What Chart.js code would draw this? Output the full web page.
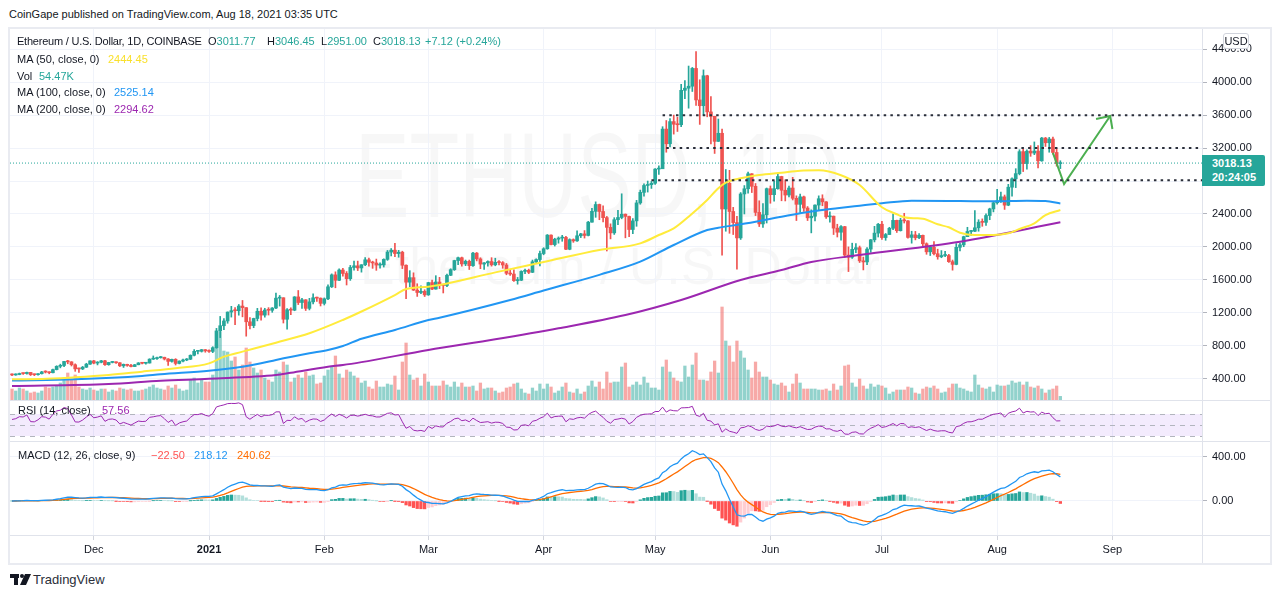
<!DOCTYPE html>
<html>
<head>
<meta charset="utf-8">
<script src="https://cdn.jsdelivr.net/npm/chart.js@4.4.1/dist/chart.umd.min.js"></script>
<style>
  body { margin: 0; width: 1280px; height: 598px; background: #fff; overflow: hidden; position: relative;
         font-family: 'Liberation Sans', Arial, sans-serif; font-size: 11px; color: #131722; }
  .t { position: absolute; white-space: nowrap; line-height: 13px; }
  canvas { position: absolute; left: 10px; z-index: 1; }
  .hl { position: absolute; left: 10px; width: 1260px; height: 1px; background: #e0e3eb; z-index: 2; }
  .wm { position: absolute; white-space: nowrap; color: rgba(0, 0, 0, 0.03); line-height: 1; z-index: 0; transform-origin: left top; }
  #frame { position: absolute; left: 8px; top: 27px; width: 1260px; height: 534px; border: 2px solid #e9ebf1; }
</style>
</head>
<body>
<div class="t" style="left:9px;top:8px;font-size:11px;">CoinGape published on TradingView.com, Aug 18, 2021 03:35 UTC</div>
<div id="frame"></div>

<div class="wm" style="left:355px;top:115px;font-size:120px;transform:scaleX(0.68);">ETHUSD, 1D</div>
<div class="wm" style="left:360px;top:240px;font-size:52px;">Ethereum / U.S. Dollar</div>

<canvas id="main" width="1260" height="371" style="top:29px"></canvas>
<canvas id="rsi" width="1260" height="40" style="top:401px"></canvas>
<canvas id="macd" width="1260" height="121" style="top:442px"></canvas>

<div class="hl" style="top:400px"></div>
<div class="hl" style="top:441px"></div>
<div class="hl" style="top:535px"></div>
<div style="position:absolute;left:1202px;top:29px;width:1px;height:534px;background:#e0e3eb;z-index:2"></div>

<!-- legend -->
<div class="t" style="left:17px;top:35px;z-index:3;letter-spacing:-0.22px">Ethereum / U.S. Dollar, 1D, COINBASE</div>
<div class="t" style="left:208px;top:35px;z-index:3">O<span style="color:#26a69a">3011.77</span></div>
<div class="t" style="left:267px;top:35px;z-index:3">H<span style="color:#26a69a">3046.45</span></div>
<div class="t" style="left:321px;top:35px;z-index:3">L<span style="color:#26a69a">2951.00</span></div>
<div class="t" style="left:373px;top:35px;z-index:3">C<span style="color:#26a69a">3018.13</span></div>
<div class="t" style="left:425px;top:35px;z-index:3;color:#26a69a">+7.12 (+0.24%)</div>
<div class="t" style="left:17px;top:53px;z-index:3">MA (50, close, 0)</div>
<div class="t" style="left:108px;top:53px;z-index:3;color:#f9e02c">2444.45</div>
<div class="t" style="left:17px;top:70px;z-index:3">Vol</div>
<div class="t" style="left:39px;top:70px;z-index:3;color:#26a69a">54.47K</div>
<div class="t" style="left:17px;top:86px;z-index:3">MA (100, close, 0)</div>
<div class="t" style="left:114px;top:86px;z-index:3;color:#2196f3">2525.14</div>
<div class="t" style="left:17px;top:103px;z-index:3">MA (200, close, 0)</div>
<div class="t" style="left:114px;top:103px;z-index:3;color:#9c27b0">2294.62</div>

<div class="t" style="left:18px;top:404px;z-index:3">RSI (14, close)</div>
<div class="t" style="left:102px;top:404px;z-index:3;color:#9c27b0">57.56</div>
<div class="t" style="left:18px;top:449px;z-index:3">MACD (12, 26, close, 9)</div>
<div class="t" style="left:151px;top:449px;z-index:3;color:#ff5252">−22.50</div>
<div class="t" style="left:194px;top:449px;z-index:3;color:#2196f3">218.12</div>
<div class="t" style="left:237px;top:449px;z-index:3;color:#ff6d00">240.62</div>

<!-- right axis badges -->
<div style="position:absolute;left:1223px;top:33px;width:24px;height:14px;border:1px solid #d1d4dc;border-radius:3px;background:#fff;z-index:3;text-align:center;line-height:14px;">USD</div>
<div style="position:absolute;left:1202px;top:155px;width:63px;height:31px;background:#26a69a;z-index:3;border-radius:0 2px 2px 0;"></div>
<div class="t" style="left:1212px;top:157px;z-index:4;color:#fff;font-weight:bold">3018.13</div>
<div class="t" style="left:1212px;top:171px;z-index:4;color:#fff;font-weight:bold">20:24:05</div>

<!-- footer -->
<svg style="position:absolute;left:10px;top:574px" width="21" height="11" viewBox="0 0 21 11">
  <rect x="0" y="0" width="9" height="4" fill="#131722"/>
  <rect x="4" y="0" width="4" height="11" fill="#131722"/>
  <circle cx="12" cy="2" r="2" fill="#131722"/>
  <polygon points="15,0 21,0 16,11 10,11" fill="#131722"/>
</svg>
<div class="t" style="left:33px;top:572px;font-size:13px;line-height:16px;color:#2a2e39">TradingView</div>

<script>
// daily candles, Nov 9 2020 .. Aug 18 2021 (COINBASE ETH/USD)
const firstOpen = 452;
const closes = [
  444,449,462,461,475,448,447,459,481,479,471,509,549,559,608,603,568,518,517,538,575,615, // Nov
  588,598,616,569,596,601,592,555,573,560,546,568,590,586,589,636,643,654,659,638,609,634,584,612,626,635,683,731,731,751,737, // Dec
  730,775,979,1042,1100,1208,1225,1224,1281,1262,1090,1044,1130,1218,1171,1233,1230,1257,1377,1382,1121,1236,1231,1392,1324,1357,1253,1332,1382,1377,1314, // Jan
  1369,1515,1660,1594,1719,1677,1614,1750,1770,1744,1783,1843,1813,1804,1779,1781,1848,1937,1960,1919,1935,1777,1571,1626,1475,1446,1460,1417, // Feb
  1566,1487,1573,1537,1531,1655,1723,1834,1868,1793,1825,1772,1924,1854,1791,1806,1822,1782,1812,1809,1780,1679,1670,1590,1595,1702,1716,1691,1819,1846,1919, // Mar
  1977,2143,2028,2093,2107,2115,1971,2088,2073,2135,2158,2139,2300,2432,2515,2430,2355,2237,2170,2330,2357,2397,2370,2211,2316,2534,2662,2746,2756,2773, // Apr
  2945,2949,3431,3253,3522,3490,3484,3902,3928,3952,4168,3785,3715,4079,3640,3586,3282,3380,2460,2772,2430,2295,2109,2643,2706,2888,2736,2419,2279,2390,2707, // May
  2634,2707,2855,2688,2630,2715,2590,2517,2608,2472,2353,2372,2508,2585,2547,2365,2373,2228,2178,2246,1900,1875,1970,1990,1830,1817,1973,2086,2167,2275, // Jun
  2113,2150,2226,2322,2197,2324,2316,2115,2146,2111,2140,2038,1940,1995,1917,1880,1895,1895,1820,1787,1995,2025,2124,2187,2190,2232,2300,2298,2381,2461,2536, // Jul
  2560,2608,2507,2725,2827,2890,3157,3012,3163,3140,3164,3045,3322,3265,3310,3147,3011.77,3018.13 // Aug
];
const highs = [
  458,458,467,468,478,476,455,462,488,495,482,515,556,575,610,622,606,579,528,548,586,617,
  622,606,621,621,598,607,604,594,577,575,573,572,594,592,593,641,675,660,669,660,644,636,642,616,638,644,688,751,735,754,753,
  749,787,1010,1155,1130,1210,1278,1262,1300,1349,1262,1141,1134,1253,1260,1254,1262,1263,1440,1410,1382,1250,1260,1396,1470,1374,1359,1375,1429,1391,1380,
  1380,1540,1672,1697,1733,1740,1700,1775,1826,1827,1784,1870,1863,1826,1852,1807,1855,1957,1980,2042,1958,1947,1781,1711,1685,1552,1526,1479,
  1570,1597,1650,1630,1547,1668,1734,1838,1875,1875,1840,1840,1935,1932,1868,1809,1830,1869,1862,1835,1822,1799,1723,1720,1629,1710,1730,1730,1840,1855,1949,
  1990,2150,2145,2105,2121,2140,2128,2098,2097,2195,2165,2198,2310,2469,2547,2520,2498,2370,2280,2355,2445,2645,2400,2375,2345,2565,2690,2765,2800,2795,
  2952,2985,3460,3535,3560,3601,3575,3975,4020,4197,4180,4372,4030,4150,4085,3825,3587,3553,3430,2940,2930,2480,2370,2660,2745,2910,2890,2770,2560,2525,2715,
  2740,2800,2891,2858,2815,2740,2845,2620,2640,2617,2490,2450,2510,2620,2633,2550,2425,2375,2275,2260,2250,2000,2045,2040,2010,1876,1992,2090,2250,2285,
  2310,2163,2238,2400,2325,2348,2408,2318,2190,2188,2161,2144,2049,2000,2065,1972,1955,1945,1910,1840,2040,2045,2130,2238,2200,2440,2330,2340,2400,2470,2550,
  2700,2665,2630,2760,2838,2950,3180,3185,3180,3230,3275,3230,3330,3330,3330,3335,3200,3046.45
];
const lows = [
  436,440,446,451,455,437,435,441,455,468,458,470,505,530,544,580,553,488,475,509,535,572,
  579,566,591,560,562,590,584,546,535,549,541,545,567,579,576,588,632,634,648,626,559,600,565,578,602,617,630,674,700,722,720,
  718,715,768,898,994,1072,1147,1055,1170,1150,915,1002,1018,1101,1111,1146,1172,1205,1248,1281,1075,1000,1176,1224,1299,1252,1227,1234,1308,1337,1282,
  1294,1358,1506,1503,1589,1644,1537,1593,1716,1712,1693,1772,1765,1739,1715,1740,1755,1836,1890,1880,1874,1736,1371,1515,1470,1398,1431,1397,
  1411,1480,1486,1493,1440,1518,1650,1714,1785,1765,1772,1725,1762,1830,1735,1725,1767,1766,1770,1781,1740,1661,1652,1580,1547,1590,1675,1675,1687,1797,1769,
  1904,1971,2025,2010,2045,2068,1965,1965,2055,2066,2113,2107,2133,2300,2359,2330,2303,1950,2097,2151,2270,2341,2110,2125,2160,2250,2518,2615,2666,2710,
  2760,2880,2950,3150,3215,3370,3402,3460,3800,3685,3888,3720,3488,3600,3580,3252,3135,3280,1900,2190,2165,2150,1730,2090,2400,2653,2660,2380,2247,2235,2290,
  2530,2556,2700,2560,2558,2607,2570,2320,2420,2430,2320,2170,2315,2450,2500,2345,2300,2150,2120,2080,1870,1700,1860,1930,1810,1720,1785,1934,2060,2120,
  2090,2080,2150,2208,2175,2192,2290,2105,2045,2085,2100,2010,1910,1895,1903,1850,1868,1880,1812,1717,1782,1952,2002,2152,2140,2185,2190,2250,2260,2330,2425,
  2520,2540,2455,2500,2615,2720,2875,2915,2945,3100,3120,2960,3040,3220,3150,3125,2981,2951
];
// volume in thousands of ETH
const volumesK = [
  165,135,180,165,135,105,120,105,135,195,180,195,210,255,330,405,300,375,195,165,150,180,
  150,135,165,165,120,150,135,180,165,150,165,135,135,150,165,195,225,180,165,150,210,180,225,165,135,150,300,330,255,300,270,
  270,375,840,1020,735,720,585,645,450,525,780,570,480,405,450,330,300,270,450,420,570,525,270,330,375,330,420,360,375,240,255,
  360,450,495,660,390,330,450,420,360,330,255,285,195,165,285,195,195,240,225,360,150,570,855,375,300,330,210,390,
  270,210,210,210,285,225,195,270,195,255,195,195,210,135,255,165,180,180,135,105,120,180,195,240,255,165,105,90,180,135,240,
  165,240,195,105,135,195,255,120,105,165,90,120,210,285,195,270,165,420,255,270,270,495,555,195,225,270,225,345,255,180,
  180,150,495,600,420,330,285,270,510,345,525,705,300,300,285,420,585,405,1395,885,810,570,885,735,630,450,330,570,420,345,345,
  300,240,225,255,210,120,240,390,255,165,165,165,165,150,150,165,135,240,150,210,510,525,255,195,315,210,165,240,195,225,
  210,180,90,120,150,150,150,195,180,105,90,165,195,180,210,165,105,120,180,240,240,180,165,135,120,375,225,180,165,195,120,
  225,210,210,225,285,255,270,225,270,195,180,210,165,105,150,165,210,54.47
];

// moving averages (day index -> value)
const ma50Idx = [0,8,17,26,35,44,53,57,62,71,80,89,94,103,106,112,115,130,143,158,169,174,178,182,187,190,192,196,201,207,212,217,223,228,234,238,240,243,245,249,252,255,259,264,268,271,275,278,282];
const ma50Val = [393,395,415,443,484,525,585,666,727,836,950,1112,1215,1415,1488,1517,1537,1690,1816,1962,2043,2144,2225,2367,2570,2712,2780,2833,2873,2901,2925,2930,2870,2752,2481,2396,2359,2347,2343,2274,2238,2172,2144,2144,2165,2217,2286,2387,2448];
const ma100Idx = [0,17,35,40,53,62,67,71,80,85,89,94,103,112,115,134,143,158,169,178,187,190,196,207,215,222,228,234,242,255,264,273,278,282];
const ma100Val = [376,391,431,452,496,544,585,626,707,747,796,883,990,1112,1140,1355,1470,1660,1820,2023,2205,2233,2274,2367,2430,2470,2500,2529,2561,2557,2553,2561,2557,2527];
const ma200Idx = [0,26,40,53,71,75,85,89,94,112,130,147,165,180,196,207,215,228,255,282];
const ma200Val = [310,334,374,398,443,471,544,565,600,747,877,1011,1172,1355,1598,1719,1816,1901,2063,2298];

const monthIdx = [22,53,84,112,143,173,204,234,265,296];
const monthLabels = ['Dec','2021','Feb','Mar','Apr','May','Jun','Jul','Aug','Sep'];
const priceTicks = [400,800,1200,1600,2000,2400,2800,3200,3600,4000,4400];
const macdTicks = [0,400];
const rsiLevels = [70,50,30];
const rsiSeed = [6,4];

// drawn levels and arrow
const levelPrices = [3600,3200,2810];
const levelStart = [175,176,172];
const arrowIdx = [280.0,283.0,295.4];
const arrowPrice = [3141,2764,3590];
const arrowHeadIdx = [291.6,295.4,296.0];
const arrowHeadPrice = [3554,3590,3432];

const xMin = -0.54, xMax = 320.1;
const UP = '#26a69a', DOWN = '#ef5350';

Chart.defaults.font.family = "'Liberation Sans', Arial, sans-serif";
Chart.defaults.font.size = 11;
Chart.defaults.color = '#131722';

const opens = closes.map((c, i) => i ? closes[i - 1] : firstOpen);
const up = closes.map((c, i) => c >= opens[i]);
const pts = (idx, val) => idx.map((x, k) => ({x, y: val[k]}));

function noPad(s) { s.paddingTop = 0; s.paddingBottom = 0; s.paddingLeft = 0; s.paddingRight = 0; }

function xScale(labels) {
  return {
    type: 'linear', min: xMin, max: xMax, offset: false,
    afterBuildTicks: s => { s.ticks = monthIdx.map(v => ({value: v})); },
    grid: { color: '#f0f3fa', drawTicks: labels, tickLength: 5, tickColor: '#d1d4dc', offset: false },
    border: { display: false },
    ticks: {
      display: labels, padding: 3, maxRotation: 0, autoSkip: false, color: '#131722',
      callback: v => monthLabels[monthIdx.indexOf(v)],
      font: c => ({ size: 11, weight: (c.tick && c.tick.value === 53) ? 'bold' : 'normal' })
    },
    afterFit: s => { s.height = labels ? 28 : 0; noPad(s); }
  };
}

function yScale(min, max, ticks) {
  return {
    position: 'right', min, max,
    afterBuildTicks: s => { s.ticks = (ticks || []).map(v => ({value: v})); },
    grid: { display: !!ticks, color: '#f0f3fa', tickLength: 5, tickColor: '#b2b5be' },
    border: { display: false },
    ticks: { display: !!ticks, padding: 5, color: '#131722', callback: v => v.toFixed(2) },
    afterFit: s => { s.width = 68; noPad(s); }
  };
}

const base = {
  responsive: false, animation: false, devicePixelRatio: 1, events: [],
  layout: { padding: 0 },
  plugins: { legend: { display: false }, tooltip: { enabled: false } }
};

// ---- main pane ----
const mainSets = [
  { type: 'line', data: pts(ma50Idx, ma50Val), borderColor: '#ffeb3b', borderWidth: 2, pointRadius: 0, cubicInterpolationMode: 'monotone', order: 1 },
  { type: 'line', data: pts(ma100Idx, ma100Val), borderColor: '#2196f3', borderWidth: 2, pointRadius: 0, cubicInterpolationMode: 'monotone', order: 1 },
  { type: 'line', data: pts(ma200Idx, ma200Val), borderColor: '#9c27b0', borderWidth: 2, pointRadius: 0, cubicInterpolationMode: 'monotone', order: 1 },
  { type: 'line', data: [{x: xMin, y: closes[closes.length - 1]}, {x: xMax, y: closes[closes.length - 1]}],
    borderColor: UP, borderWidth: 1, borderDash: [1, 2], pointRadius: 0, order: 2 },
  { type: 'bar', data: closes.map((c, i) => ({x: i, y: [opens[i], c]})), backgroundColor: up.map(u => u ? UP : DOWN),
    barThickness: 3, grouped: false, minBarLength: 1, order: 3 },
  { type: 'bar', data: closes.map((c, i) => ({x: i, y: [lows[i], highs[i]]})), backgroundColor: up.map(u => u ? UP : DOWN),
    barThickness: 1, grouped: false, order: 4 },
  { type: 'bar', yAxisID: 'yv', data: volumesK.map((v, i) => ({x: i, y: v})),
    backgroundColor: up.map(u => u ? 'rgba(38,166,154,0.5)' : 'rgba(239,83,80,0.5)'),
    barThickness: 2.6, grouped: false, order: 6 }
];
levelPrices.forEach((p, k) => mainSets.push({
  type: 'line', data: [{x: levelStart[k], y: p}, {x: xMax, y: p}], borderColor: '#2a2e39',
  borderWidth: 2, borderDash: [2.5, 4.2], pointRadius: 0, order: 0
}));
mainSets.push({ type: 'line', data: pts(arrowIdx, arrowPrice), borderColor: '#4caf50', borderWidth: 2, pointRadius: 0, order: 0 });
mainSets.push({ type: 'line', data: pts(arrowHeadIdx, arrowHeadPrice), borderColor: '#4caf50', borderWidth: 2, pointRadius: 0, order: 0 });

new Chart(document.getElementById('main'), {
  type: 'bar',
  data: { datasets: mainSets },
  options: Object.assign({}, base, {
    scales: {
      x: xScale(false),
      y: yScale(139.7, 4647, priceTicks),
      yv: { display: false, min: 0, max: 5565 }
    }
  })
});

// ---- RSI (14) ----
function calcRsi(src, len) {
  let g = rsiSeed[0], l = rsiSeed[1];
  return src.map((c, i) => {
    if (i) {
      const d = c - src[i - 1];
      g = (g * (len - 1) + Math.max(d, 0)) / len;
      l = (l * (len - 1) + Math.max(-d, 0)) / len;
    }
    return 100 - 100 / (1 + g / l);
  });
}
const rsiVals = calcRsi(closes, 14);

const rsiBand = {
  id: 'rsiBand',
  beforeDatasetsDraw(chart) {
    const {ctx, chartArea: a, scales: {y}} = chart;
    const t = y.getPixelForValue(rsiLevels[0]), b = y.getPixelForValue(rsiLevels[2]);
    ctx.save();
    ctx.fillStyle = 'rgba(149,76,233,0.11)';
    ctx.fillRect(a.left, t, a.right - a.left, b - t);
    ctx.strokeStyle = '#b2b5be';
    ctx.lineWidth = 1;
    ctx.setLineDash([5, 5]);
    rsiLevels.forEach(v => {
      const py = Math.round(y.getPixelForValue(v)) + 0.5;
      ctx.beginPath(); ctx.moveTo(a.left, py); ctx.lineTo(a.right, py); ctx.stroke();
    });
    ctx.restore();
  }
};

new Chart(document.getElementById('rsi'), {
  type: 'line',
  data: { datasets: [{ data: rsiVals.map((v, i) => ({x: i, y: v})), borderColor: '#9c27b0', borderWidth: 1, pointRadius: 0 }] },
  options: Object.assign({}, base, { scales: { x: xScale(false), y: yScale(20.9, 93.64, null) } }),
  plugins: [rsiBand]
});

// ---- MACD (12, 26, 9) ----
function ema(src, len) {
  const k = 2 / (len + 1);
  let e = src[0];
  return src.map(v => (e = e + k * (v - e)));
}
const e12 = ema(closes, 12), e26 = ema(closes, 26);
const macd = e12.map((v, i) => v - e26[i]);
const signal = ema(macd, 9);
const hist = macd.map((v, i) => v - signal[i]);
const histColors = hist.map((h, i) => {
  const p = i ? hist[i - 1] : 0;
  return h >= 0 ? (h >= p ? '#26a69a' : '#b2dfdb') : (h < p ? '#ff5252' : '#ffcdd2');
});

new Chart(document.getElementById('macd'), {
  type: 'bar',
  data: { datasets: [
    { type: 'line', data: macd.map((v, i) => ({x: i, y: v})), borderColor: '#2196f3', borderWidth: 1.3, pointRadius: 0, order: 1 },
    { type: 'line', data: signal.map((v, i) => ({x: i, y: v})), borderColor: '#ff6d00', borderWidth: 1.3, pointRadius: 0, order: 2 },
    { type: 'bar', data: hist.map((v, i) => ({x: i, y: v})), backgroundColor: histColors, barThickness: 2.6, grouped: false, order: 3 }
  ] },
  options: Object.assign({}, base, { scales: { x: xScale(true), y: yScale(-307, 532.7, macdTicks) } })
});
</script>
</body>
</html>
